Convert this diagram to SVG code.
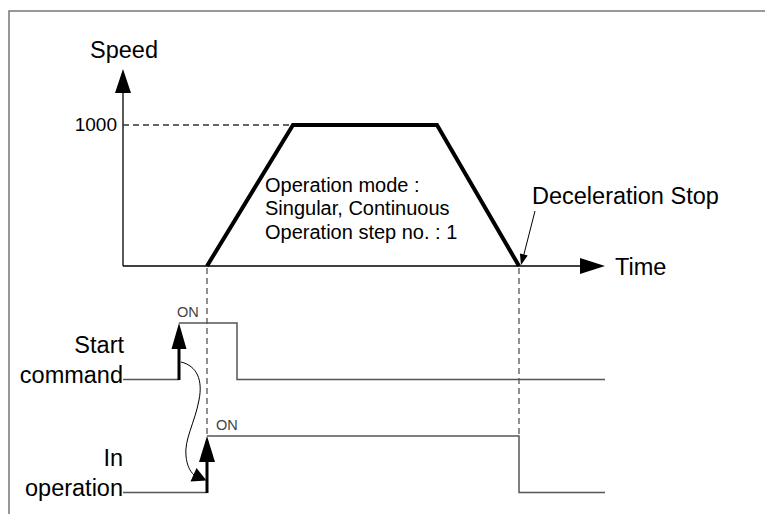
<svg xmlns="http://www.w3.org/2000/svg" width="765" height="514" viewBox="0 0 765 514">
<style>
.t{font-family:"Liberation Sans",Arial,sans-serif;fill:#000}
.big{font-size:23.5px}
.mid{font-size:20px}
.on{font-size:14.5px;fill:#444}
.sig{fill:none;stroke:#555;stroke-width:1.5}
.dash{fill:none;stroke:#555;stroke-width:1.3;stroke-dasharray:6,4}
.ax{fill:none;stroke:#000;stroke-width:1.3}
.thick{fill:none;stroke:#000;stroke-width:3}
</style>
<rect width="765" height="514" fill="#fff"/>
<path d="M9,514 V11 H765" fill="none" stroke="#777" stroke-width="1.5"/>

<g id="speed-axis">
<line class="ax" x1="123" y1="90" x2="123" y2="266"/>
<polygon points="123,69 115,93 131,93" fill="#000"/>
<text class="t big" x="90" y="57.5">Speed</text>
</g>

<g id="time-axis">
<line class="ax" x1="123" y1="266" x2="582" y2="266"/>
<polygon points="605,266 580,258 580,274" fill="#000"/>
<text class="t big" x="615" y="274.5">Time</text>
</g>

<g id="level-1000">
<line x1="123" y1="125" x2="293" y2="125" stroke="#333" stroke-width="1.3" stroke-dasharray="6,4"/>
<text class="t" x="117" y="131" text-anchor="end" font-size="19" fill="#222">1000</text>
</g>

<g id="profile">
<polyline points="207,266 293,125 437,125 519,266" fill="none" stroke="#000" stroke-width="4" stroke-linejoin="miter"/>
</g>

<g id="mode-label">
<text class="t mid" x="265" y="191.5">Operation mode :</text>
<text class="t mid" x="265" y="215">Singular, Continuous</text>
<text class="t mid" x="265" y="238.5">Operation step no. : 1</text>
</g>

<g id="decel-label">
<text class="t big" x="532" y="203.5">Deceleration Stop</text>
</g>

<g id="start-command">
<text class="t big" x="124" y="352.5" text-anchor="end">Start</text>
<text class="t big" x="123" y="382.5" text-anchor="end">command</text>
<polyline class="sig" points="123,379.5 179,379.5"/>
<polyline class="sig" points="179,323 237,323 237,379.5 605,379.5"/>
<text class="t on" x="177" y="317">ON</text>
</g>

<g id="in-operation">
<text class="t big" x="123" y="466" text-anchor="end">In</text>
<text class="t big" x="123" y="495.5" text-anchor="end">operation</text>
<polyline class="sig" points="123,492.5 207,492.5"/>
<polyline class="sig" points="207,436 519,436 519,492.5 605,492.5"/>
<text class="t on" x="216" y="429.5">ON</text>
</g>

<g id="connectors">
<line class="dash" x1="207" y1="268" x2="207" y2="436"/>
<line class="dash" x1="519" y1="268" x2="519" y2="436"/>
<line class="thick" x1="179" y1="380" x2="179" y2="346"/>
<polygon points="179,323 171.5,349 186.5,349" fill="#000"/>
<line class="thick" x1="207" y1="493" x2="207" y2="459"/>
<polygon points="207,436 199,462 215,462" fill="#000"/>
<path d="M181,362 C197,366 203,380 199,400 C195,422 184,440 186,456 C187,466 190,471 194,475" fill="none" stroke="#000" stroke-width="1"/>
<polygon points="206.5,480.5 196.5,468 190.5,481.5" fill="#000"/>
<line x1="535" y1="211" x2="523.5" y2="256" stroke="#000" stroke-width="1"/>
<polygon points="521,265 527.7,255.4 519.9,253.4" fill="#000"/>
</g>
</svg>
